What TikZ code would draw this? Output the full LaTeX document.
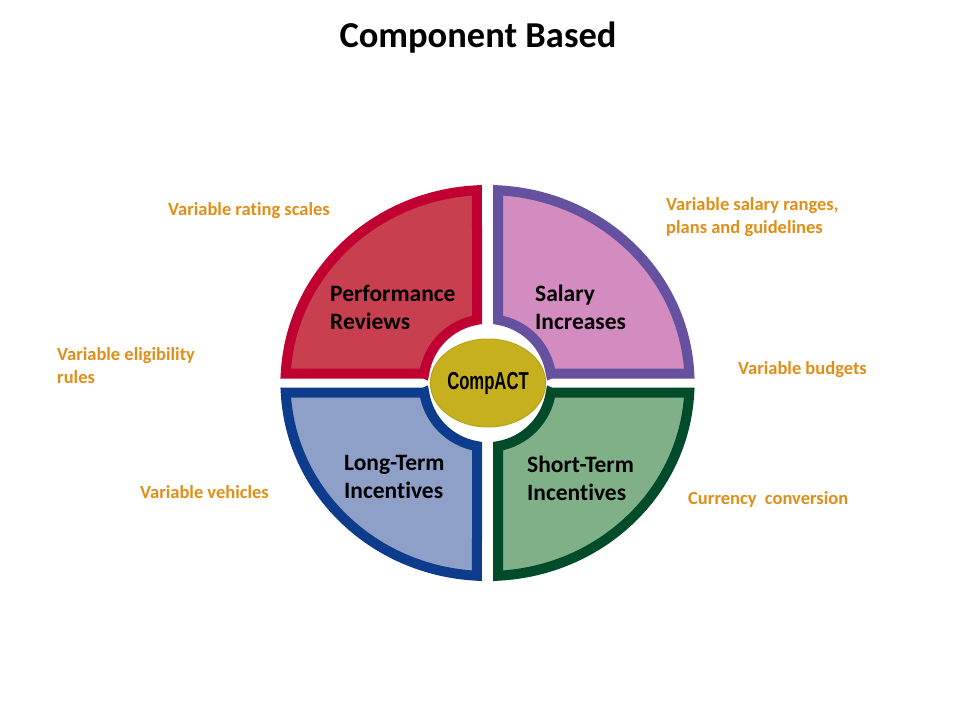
\documentclass[tikz,border=0pt]{standalone}
\usepackage{fontspec}
\setmainfont{Carlito}[Ligatures=NoCommon]
\newfontfamily\narrowfont[FakeStretch=0.68]{Liberation Sans}
\usetikzlibrary{positioning, shapes.geometric}

\definecolor{redline}{RGB}{192,0,48}
\definecolor{redfill}{RGB}{200,64,80}
\definecolor{purpleline}{RGB}{102,80,160}
\definecolor{purplefill}{RGB}{210,140,192}
\definecolor{blueline}{RGB}{14,60,140}
\definecolor{bluefill}{RGB}{142,160,200}
\definecolor{greenline}{RGB}{0,76,42}
\definecolor{greenfill}{RGB}{128,176,136}
\definecolor{goldfill}{RGB}{198,176,30}
\definecolor{goldline}{RGB}{186,162,20}
\definecolor{note}{RGB}{224,142,24}

\newcommand{\quadpath}{(63.29,9.5) -- (201.76,9.5)
  arc[start angle=2.821, end angle=87.02, x radius=202, y radius=193]
  -- (10.5,63.13) arc[start angle=80.557, end angle=8.536, radius=64] -- cycle}

\begin{document}
\begin{tikzpicture} [
						x=1pt, y=-1pt,
						quad/.style={line width=10pt, line join=miter},
						label/.style={anchor=base west, inner sep=0pt, align=left,
							font=\bfseries\fontsize{23.5}{28}\selectfont},
						remark/.style={anchor=base west, inner sep=0pt, align=left, text=note,
							font=\bfseries\fontsize{18.5}{22.5}\selectfont}
					]
\useasboundingbox (0,0) rectangle (960,720);

\foreach \sx/\sy/\bc/\fc in {1/1/greenline/greenfill, -1/1/blueline/bluefill,
	-1/-1/redline/redfill, 1/-1/purpleline/purplefill}
	\draw[quad, draw=\bc, fill=\fc, shift={(487.5,383)}, xscale=\sx, yscale=\sy] \quadpath;

\node (core) [ellipse, minimum width=94pt, minimum height=88pt, inner sep=0pt,
	fill=goldfill, draw=goldline, line width=1pt] at (488,383)
	{\narrowfont\bfseries\fontsize{24.5}{24}\selectfont CompACT};

\node (title) [anchor=base, font=\bfseries\fontsize{36.5}{40}\selectfont] at (478,47) {Component Based};

\node (perf)  [label] at (330,329) {Performance\\Reviews};
\node (sal)   [label] at (535,329) {Salary\\Increases};
\node (lti)   [label] at (344,498) {Long-Term\\Incentives};
\node (sti)   [label] at (527,500) {Short-Term\\Incentives};

\node (rating)   [remark] at (168,215) {Variable rating scales};
\node (elig)     [remark] at (57,383)  {Variable eligibility\\rules};
\node (ranges)   [remark] at (666,233) {Variable salary ranges,\\plans and guidelines};
\node (budgets)  [remark] at (738,374) {Variable budgets};
\node (vehicles) [remark] at (140,498) {Variable vehicles};
\node (currency) [remark] at (688,504) {Currency\ \ conversion};
\end{tikzpicture}
\end{document}
